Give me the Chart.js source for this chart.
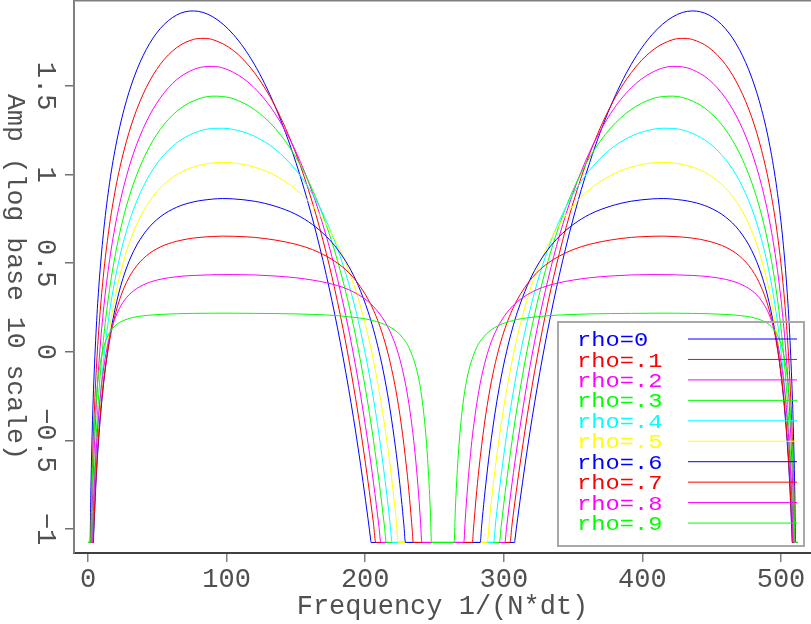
<!DOCTYPE html>
<html><head><meta charset="utf-8">
<style>html,body{margin:0;padding:0;background:#fff}canvas{display:block}</style>
<script src="https://cdn.jsdelivr.net/npm/chart.js@4.4.1/dist/chart.umd.min.js"></script>
</head><body>
<canvas id="c" width="811" height="624"></canvas>
<script>
// floor (clip level)
const F = -1.076;
const seriesLabels = ['rho=0','rho=.1','rho=.2','rho=.3','rho=.4','rho=.5','rho=.6','rho=.7','rho=.8','rho=.9'];
const seriesColors = ['#0000ff','#ff0000','#ff00ff','#00ff00','#00ffff','#ffff00','#0000ff','#ff0000','#ff00ff','#00ff00'];
const xTickValues = [0,100,200,300,400,500];
const yTickValues = [-1,-0.5,0,0.5,1,1.5];
const yTickLabels = ['\u22121','\u22120.5','0','0.5','1','1.5'];

const rho0 = [[0,F],[1.48,F],[2,-0.812],[3,-0.460],[4,-0.211],[6,0.140],[8,0.388],[11,0.660],[15,0.922],[20,1.160],[26,1.368],[33,1.545],[42,1.706],[52,1.823],[64,1.901],[76,1.924],[90,1.891],[105,1.790],[120,1.623],[135,1.385],[150,1.069],[162,0.750],[172,0.431],[180,0.135],[188,-0.206],[195,-0.548],[202,-0.940],[204,-1.063],[204.2,F],
 [307.8,F],[308,-1.063],[310,-0.940],[317,-0.548],[324,-0.206],[332,0.135],[340,0.431],[350,0.750],[362,1.069],[377,1.385],[392,1.623],[407,1.790],[422,1.891],[436,1.924],[448,1.901],[460,1.823],[470,1.706],[479,1.545],[486,1.368],[492,1.160],[497,0.922],[501,0.660],[504,0.388],[506,0.140],[508,-0.211],[509,-0.460],[510,-0.812],[510.52,F],[512,F]];

const rho1 = [[0,F],[1.94,F],[2,-1.052],[3,-0.700],[4,-0.450],[6,-0.099],[8,0.149],[11,0.422],[15,0.686],[20,0.926],[26,1.137],[33,1.321],[42,1.491],[52,1.621],[64,1.717],[76,1.763],[83,1.769],[90,1.762],[105,1.700],[120,1.576],[135,1.386],[150,1.119],[162,0.840],[172,0.554],[180,0.283],[188,-0.034],[195,-0.356],[202,-0.730],[204,-0.848],[206,-0.971],[207.6,F],
 [304.4,F],[306,-0.971],[308,-0.848],[310,-0.730],[317,-0.356],[324,-0.034],[332,0.283],[340,0.554],[350,0.840],[362,1.119],[377,1.386],[392,1.576],[407,1.700],[422,1.762],[429,1.769],[436,1.763],[448,1.717],[460,1.621],[470,1.491],[479,1.321],[486,1.137],[492,0.926],[497,0.686],[501,0.422],[504,0.149],[506,-0.099],[508,-0.450],[509,-0.700],[510,-1.052],[510.06,F],[512,F]];

const rho2 = [[0,F],[2.45,F],[3,-0.900],[4,-0.650],[6,-0.299],[8,-0.051],[11,0.223],[15,0.486],[20,0.727],[26,0.939],[33,1.124],[42,1.297],[52,1.431],[64,1.536],[76,1.593],[83,1.608],[90,1.611],[105,1.577],[120,1.490],[135,1.344],[150,1.129],[162,0.897],[172,0.651],[180,0.412],[188,0.128],[195,-0.166],[202,-0.513],[204,-0.623],[206,-0.739],[208,-0.862],[210,-0.991],[211.25,F],
 [300.75,F],[302,-0.991],[304,-0.862],[306,-0.739],[308,-0.623],[310,-0.513],[317,-0.166],[324,0.128],[332,0.412],[340,0.651],[350,0.897],[362,1.129],[377,1.344],[392,1.490],[407,1.577],[422,1.611],[429,1.608],[436,1.593],[448,1.536],[460,1.431],[470,1.297],[479,1.124],[486,0.939],[492,0.727],[497,0.486],[501,0.223],[504,-0.051],[506,-0.299],[508,-0.650],[509,-0.900],[509.55,F],[512,F]];

const rho3 = [[0,F],[2.95,F],[3,-1.062],[4,-0.813],[6,-0.462],[8,-0.214],[11,0.059],[15,0.322],[20,0.561],[26,0.772],[33,0.953],[42,1.122],[52,1.254],[64,1.357],[76,1.416],[90,1.443],[97,1.441],[105,1.428],[120,1.368],[135,1.262],[150,1.098],[162,0.914],[172,0.714],[180,0.515],[188,0.272],[195,0.015],[202,-0.295],[206,-0.501],[210,-0.732],[212,-0.859],[214,-0.993],[215.16,F],
 [296.84,F],[298,-0.993],[300,-0.859],[302,-0.732],[306,-0.501],[310,-0.295],[317,0.015],[324,0.272],[332,0.515],[340,0.714],[350,0.914],[362,1.098],[377,1.262],[392,1.368],[407,1.428],[415,1.441],[422,1.443],[436,1.416],[448,1.357],[460,1.254],[470,1.122],[479,0.953],[486,0.772],[492,0.561],[497,0.322],[501,0.059],[504,-0.214],[506,-0.462],[508,-0.813],[509,-1.062],[509.05,F],[512,F]];

const rho4 = [[0,F],[3.40,F],[4,-0.937],[6,-0.586],[8,-0.339],[11,-0.067],[15,0.193],[20,0.428],[26,0.633],[33,0.807],[42,0.965],[52,1.086],[64,1.179],[76,1.233],[90,1.261],[97,1.262],[105,1.255],[120,1.217],[135,1.144],[150,1.026],[162,0.890],[172,0.738],[180,0.582],[188,0.387],[195,0.175],[202,-0.088],[206,-0.266],[210,-0.470],[214,-0.703],[216,-0.832],[218,-0.972],[219.39,F],
 [292.61,F],[294,-0.972],[296,-0.832],[298,-0.703],[302,-0.470],[306,-0.266],[310,-0.088],[317,0.175],[324,0.387],[332,0.582],[340,0.738],[350,0.890],[362,1.026],[377,1.144],[392,1.217],[407,1.255],[415,1.262],[422,1.261],[436,1.233],[448,1.179],[460,1.086],[470,0.965],[479,0.807],[486,0.633],[492,0.428],[497,0.193],[501,-0.067],[504,-0.339],[506,-0.586],[508,-0.937],[508.6,F],[512,F]];

const rho5 = [[0,F],[3.74,F],[4,-1.019],[6,-0.669],[8,-0.424],[11,-0.155],[15,0.100],[20,0.327],[26,0.521],[33,0.681],[42,0.821],[52,0.924],[64,1.000],[76,1.043],[90,1.066],[97,1.069],[105,1.066],[120,1.043],[135,0.995],[150,0.917],[162,0.824],[172,0.718],[180,0.606],[188,0.461],[195,0.300],[202,0.094],[206,-0.050],[210,-0.218],[214,-0.413],[218,-0.644],[220,-0.775],[222,-0.919],[224,F],
 [288,F],[290,-0.919],[292,-0.775],[294,-0.644],[298,-0.413],[302,-0.218],[306,-0.050],[310,0.094],[317,0.300],[324,0.461],[332,0.606],[340,0.718],[350,0.824],[362,0.917],[377,0.995],[392,1.043],[407,1.066],[415,1.069],[422,1.066],[436,1.043],[448,1.000],[460,0.924],[470,0.821],[479,0.681],[486,0.521],[492,0.327],[497,0.100],[501,-0.155],[504,-0.424],[506,-0.669],[508,-1.019],[508.26,F],[512,F]];

const rho6 = [[0,F],[3.88,F],[4,-1.051],[6,-0.704],[8,-0.461],[11,-0.198],[15,0.047],[20,0.259],[26,0.433],[33,0.570],[42,0.683],[52,0.761],[64,0.816],[76,0.846],[90,0.862],[97,0.865],[105,0.863],[120,0.850],[135,0.822],[150,0.776],[162,0.718],[172,0.651],[180,0.579],[188,0.484],[195,0.374],[202,0.229],[206,0.125],[210,0.001],[214,-0.147],[218,-0.328],[222,-0.549],[224,-0.678],[226,-0.822],[228,-0.984],[229.02,F],
 [282.98,F],[284,-0.984],[286,-0.822],[288,-0.678],[290,-0.549],[294,-0.328],[298,-0.147],[302,0.001],[306,0.125],[310,0.229],[317,0.374],[324,0.484],[332,0.579],[340,0.651],[350,0.718],[362,0.776],[377,0.822],[392,0.850],[407,0.863],[415,0.865],[422,0.862],[436,0.846],[448,0.816],[460,0.761],[470,0.683],[479,0.570],[486,0.433],[492,0.259],[497,0.047],[501,-0.198],[504,-0.461],[506,-0.704],[508,-1.051],[508.12,F],[512,F]];

const rho7 = [[0,F],[3.73,F],[4,-1.016],[6,-0.674],[8,-0.437],[11,-0.187],[15,0.037],[20,0.221],[26,0.361],[33,0.463],[42,0.541],[52,0.591],[64,0.624],[76,0.642],[90,0.651],[97,0.653],[105,0.652],[120,0.646],[135,0.631],[150,0.607],[162,0.577],[172,0.540],[180,0.501],[188,0.448],[195,0.384],[202,0.298],[206,0.235],[210,0.157],[214,0.061],[218,-0.059],[222,-0.211],[226,-0.408],[230,-0.666],[232,-0.826],[234,-1.012],[234.61,F],
 [277.39,F],[278,-1.012],[280,-0.826],[282,-0.666],[286,-0.408],[290,-0.211],[294,-0.059],[298,0.061],[302,0.157],[306,0.235],[310,0.298],[317,0.384],[324,0.448],[332,0.501],[340,0.540],[350,0.577],[362,0.607],[377,0.631],[392,0.646],[407,0.652],[415,0.653],[422,0.651],[436,0.642],[448,0.624],[460,0.591],[470,0.541],[479,0.463],[486,0.361],[492,0.221],[497,0.037],[501,-0.187],[504,-0.437],[506,-0.674],[508,-1.016],[508.27,F],[512,F]];

const rho8 = [[0,F],[3.15,F],[4,-0.875],[6,-0.547],[8,-0.329],[11,-0.111],[15,0.068],[20,0.199],[26,0.288],[33,0.345],[42,0.385],[52,0.409],[64,0.424],[76,0.431],[90,0.435],[105,0.436],[120,0.434],[135,0.428],[150,0.418],[162,0.405],[172,0.390],[180,0.374],[188,0.351],[195,0.323],[202,0.285],[206,0.255],[210,0.219],[214,0.173],[218,0.113],[222,0.035],[226,-0.072],[230,-0.220],[234,-0.433],[236,-0.575],[238,-0.750],[240,-0.969],[240.83,F],
 [271.17,F],[272,-0.969],[274,-0.750],[276,-0.575],[278,-0.433],[282,-0.220],[286,-0.072],[290,0.035],[294,0.113],[298,0.173],[302,0.219],[306,0.255],[310,0.285],[317,0.323],[324,0.351],[332,0.374],[340,0.390],[350,0.405],[362,0.418],[377,0.428],[392,0.434],[407,0.436],[422,0.435],[436,0.431],[448,0.424],[460,0.409],[470,0.385],[479,0.345],[486,0.288],[492,0.199],[497,0.068],[501,-0.111],[504,-0.329],[506,-0.547],[508,-0.875],[508.85,F],[512,F]];

const rho9 = [[0,F],[1.97,F],[2,-1.065],[3,-0.740],[4,-0.525],[6,-0.260],[8,-0.109],[11,0.017],[15,0.100],[20,0.150],[26,0.178],[33,0.195],[42,0.205],[52,0.211],[64,0.215],[76,0.217],[90,0.218],[105,0.218],[120,0.217],[135,0.216],[150,0.214],[162,0.211],[172,0.208],[180,0.204],[188,0.198],[195,0.192],[202,0.183],[208,0.171],[214,0.155],[220,0.130],[226,0.089],[232,0.017],[238,-0.130],[241,-0.266],[244,-0.492],[246,-0.733],[247,-0.898],[247.86,F],
 [264.14,F],[265,-0.898],[266,-0.733],[268,-0.492],[271,-0.266],[274,-0.130],[280,0.017],[286,0.089],[292,0.130],[298,0.155],[304,0.171],[310,0.183],[317,0.192],[324,0.198],[332,0.204],[340,0.208],[350,0.211],[362,0.214],[377,0.216],[392,0.217],[407,0.218],[422,0.218],[436,0.217],[448,0.215],[460,0.211],[470,0.205],[479,0.195],[486,0.178],[492,0.150],[497,0.100],[501,0.017],[504,-0.109],[506,-0.260],[508,-0.525],[509,-0.740],[510,-1.065],[510.03,F],[512,F]];

const allSeries = [rho0,rho1,rho2,rho3,rho4,rho5,rho6,rho7,rho8,rho9];

const FONT = '"Liberation Mono", "DejaVu Sans Mono", monospace';
const TXT = '#505050';

const datasets = allSeries.map((s, i) => ({
  label: seriesLabels[i],
  data: s.map(p => ({x: p[0], y: p[1]})),
  borderColor: seriesColors[i],
  backgroundColor: seriesColors[i],
  borderWidth: 1,
  pointRadius: 0,
  fill: false,
  cubicInterpolationMode: 'monotone',
  order: 9 - i
}));

const deco = {
  id: 'deco',
  afterDatasetsDraw(chart) {
    const ctx = chart.ctx;
    ctx.save();
    // legend box
    ctx.strokeStyle = '#a8a8a8';
    ctx.lineWidth = 2;
    ctx.strokeRect(558, 322, 246, 224);
    for (let i = 0; i < seriesLabels.length; i++) {
      const ly = 338.5 + 20.45 * i;
      ctx.strokeStyle = seriesColors[i];
      ctx.lineWidth = 1;
      ctx.beginPath();
      ctx.moveTo(688, ly + 0.5);
      ctx.lineTo(797, ly + 0.5);
      ctx.stroke();
      ctx.save();
      ctx.translate(577, ly + 2);
      ctx.scale(1.13, 1);
      ctx.fillStyle = seriesColors[i];
      ctx.font = '21px ' + FONT;
      ctx.textAlign = 'left';
      ctx.textBaseline = 'middle';
      ctx.fillText(seriesLabels[i], 0, 0);
      ctx.restore();
    }
    ctx.restore();
  },
  afterDraw(chart) {
    const ctx = chart.ctx;
    const a = chart.chartArea;
    const y = chart.scales.y;
    ctx.save();
    // top frame line
    ctx.strokeStyle = '#808080';
    ctx.lineWidth = 1.5;
    ctx.beginPath();
    ctx.moveTo(a.left - 1, 0.75);
    ctx.lineTo(chart.width, 0.75);
    ctx.stroke();
    // rotated y tick labels
    ctx.fillStyle = TXT;
    ctx.font = '27px ' + FONT;
    ctx.textAlign = 'center';
    ctx.textBaseline = 'middle';
    yTickValues.forEach((v, i) => {
      const py = y.getPixelForValue(v);
      ctx.save();
      ctx.translate(45, py);
      ctx.rotate(Math.PI / 2);
      ctx.fillText(yTickLabels[i], 0, 0);
      ctx.restore();
    });
    // rotated y title
    ctx.font = '26.5px ' + FONT;
    ctx.save();
    ctx.translate(15, (a.top + a.bottom) / 2);
    ctx.rotate(Math.PI / 2);
    ctx.fillText('Amp (log base 10 scale)', 0, 0);
    ctx.restore();
    ctx.restore();
  }
};

new Chart(document.getElementById('c'), {
  type: 'line',
  data: { datasets },
  options: {
    responsive: false,
    animation: false,
    devicePixelRatio: 1,
    layout: { padding: { left: 0, right: 0, top: 1, bottom: 0 } },
    plugins: { legend: { display: false }, tooltip: { enabled: false } },
    scales: {
      x: {
        type: 'linear', min: -10.1, max: 521.65,
        afterFit: s => { s.height = 71; },
        border: { display: true, color: '#404040', width: 2 },
        grid: { drawOnChartArea: false, drawTicks: true, tickLength: 9, color: '#808080', lineWidth: 1.5 },
        ticks: { stepSize: 100, includeBounds: false, autoSkip: false, maxRotation: 0, minRotation: 0,
                 color: TXT, font: { family: FONT, size: 27 }, padding: 2,
                 callback: v => xTickValues.includes(v) ? String(v) : '' },
        title: { display: true, text: 'Frequency 1/(N*dt)', color: TXT, font: { family: FONT, size: 27 }, padding: { top: 0, bottom: 1 } }
      },
      y: {
        type: 'linear', min: -1.1354, max: 1.98,
        afterFit: s => { s.width = 74; },
        border: { display: true, color: '#808080', width: 2 },
        grid: { drawOnChartArea: false, drawTicks: true, tickLength: 9, color: '#707070', lineWidth: 1.5 },
        ticks: { stepSize: 0.5, includeBounds: false, display: false }
      }
    }
  },
  plugins: [deco]
});
</script>
</body></html>
